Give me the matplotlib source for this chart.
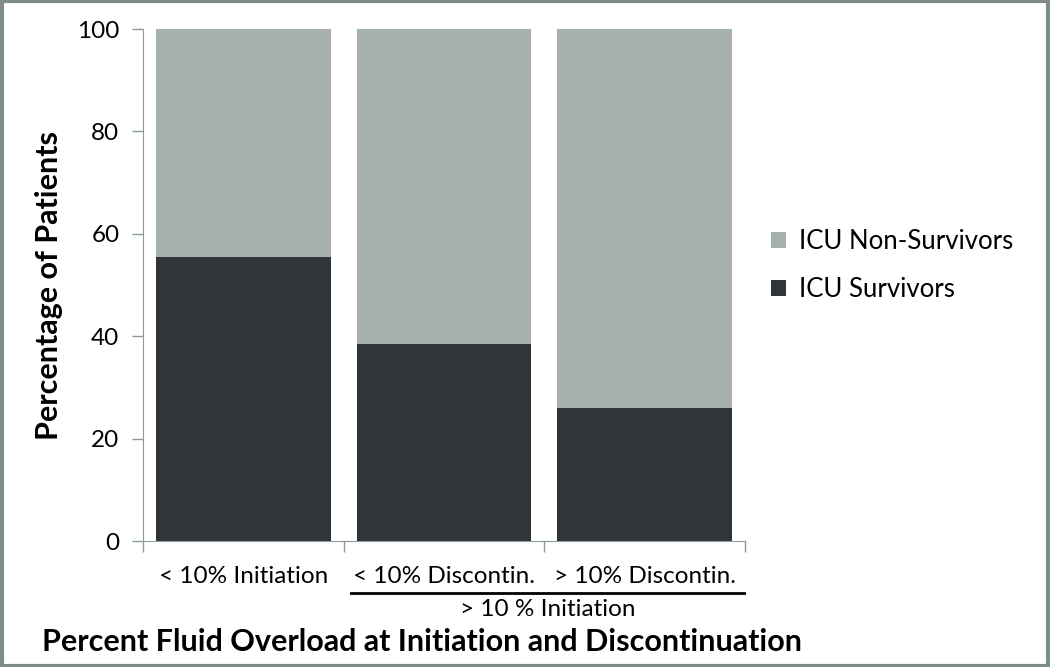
import matplotlib.pyplot as plt
import numpy as np
from matplotlib.patches import Rectangle

plt.rcParams['font.family'] = ['Lato', 'DejaVu Sans']

categories = ['< 10% Initiation', '< 10% Discontin.', '> 10% Discontin.']
survivors = [55.5, 38.5, 26.0]
non_survivors = [100 - v for v in survivors]
group_label = '> 10 % Initiation'

dark = '#2f3538'
light = '#a6b0ae'
axcol = '#8c9a99'

fig = plt.figure(figsize=(10.5, 6.67), dpi=100)
ax = fig.add_axes([0.1362, 0.1889, 0.5733, 0.7676])

x = np.arange(len(categories))
ax.bar(x, survivors, width=0.87, color=dark, label='ICU Survivors')
ax.bar(x, non_survivors, width=0.87, bottom=survivors, color=light, label='ICU Non-Survivors')

ax.set_xlim(-0.5, 2.5)
ax.set_ylim(0, 100)
ax.set_yticks(range(0, 101, 20))
ax.set_xticks([-0.5, 0.5, 1.5, 2.5])
ax.set_xticklabels([])
ax.tick_params(axis='y', labelsize=17.5, length=8, color=axcol, width=1, pad=9)
ax.tick_params(axis='x', length=8, color=axcol, width=1)
for s in ['top', 'right']:
    ax.spines[s].set_visible(False)
for s in ['left', 'bottom']:
    ax.spines[s].set_color(axcol)

for i, c in enumerate(categories):
    ax.text(i, -4.8, c, ha='center', va='top', fontsize=17.5)

# group underline for the two right categories
ax.plot([0.535, 2.495], [-10.2, -10.2], color='black', lw=2, clip_on=False)
ax.text(1.515, -11.3, group_label, ha='center', va='top', fontsize=17.5)

ax.set_ylabel('Percentage of Patients', fontsize=22, fontweight='bold', labelpad=10)
fig.text(0.402, 0.037, 'Percent Fluid Overload at Initiation and Discontinuation',
         ha='center', va='center', fontsize=22, fontweight='bold')

handles, labels = ax.get_legend_handles_labels()
ax.legend(handles[::-1], labels[::-1], loc='center left', bbox_to_anchor=(1.004, 0.538),
          frameon=False, fontsize=18.5, handlelength=0.6, handleheight=0.6,
          handletextpad=0.5, labelspacing=0.9)

fig.patches.append(Rectangle((0.0015, 0.002), 0.997, 0.996, transform=fig.transFigure,
                             fill=False, edgecolor='#7f8c8b', lw=3))

fig.savefig('out.png', dpi=100)
